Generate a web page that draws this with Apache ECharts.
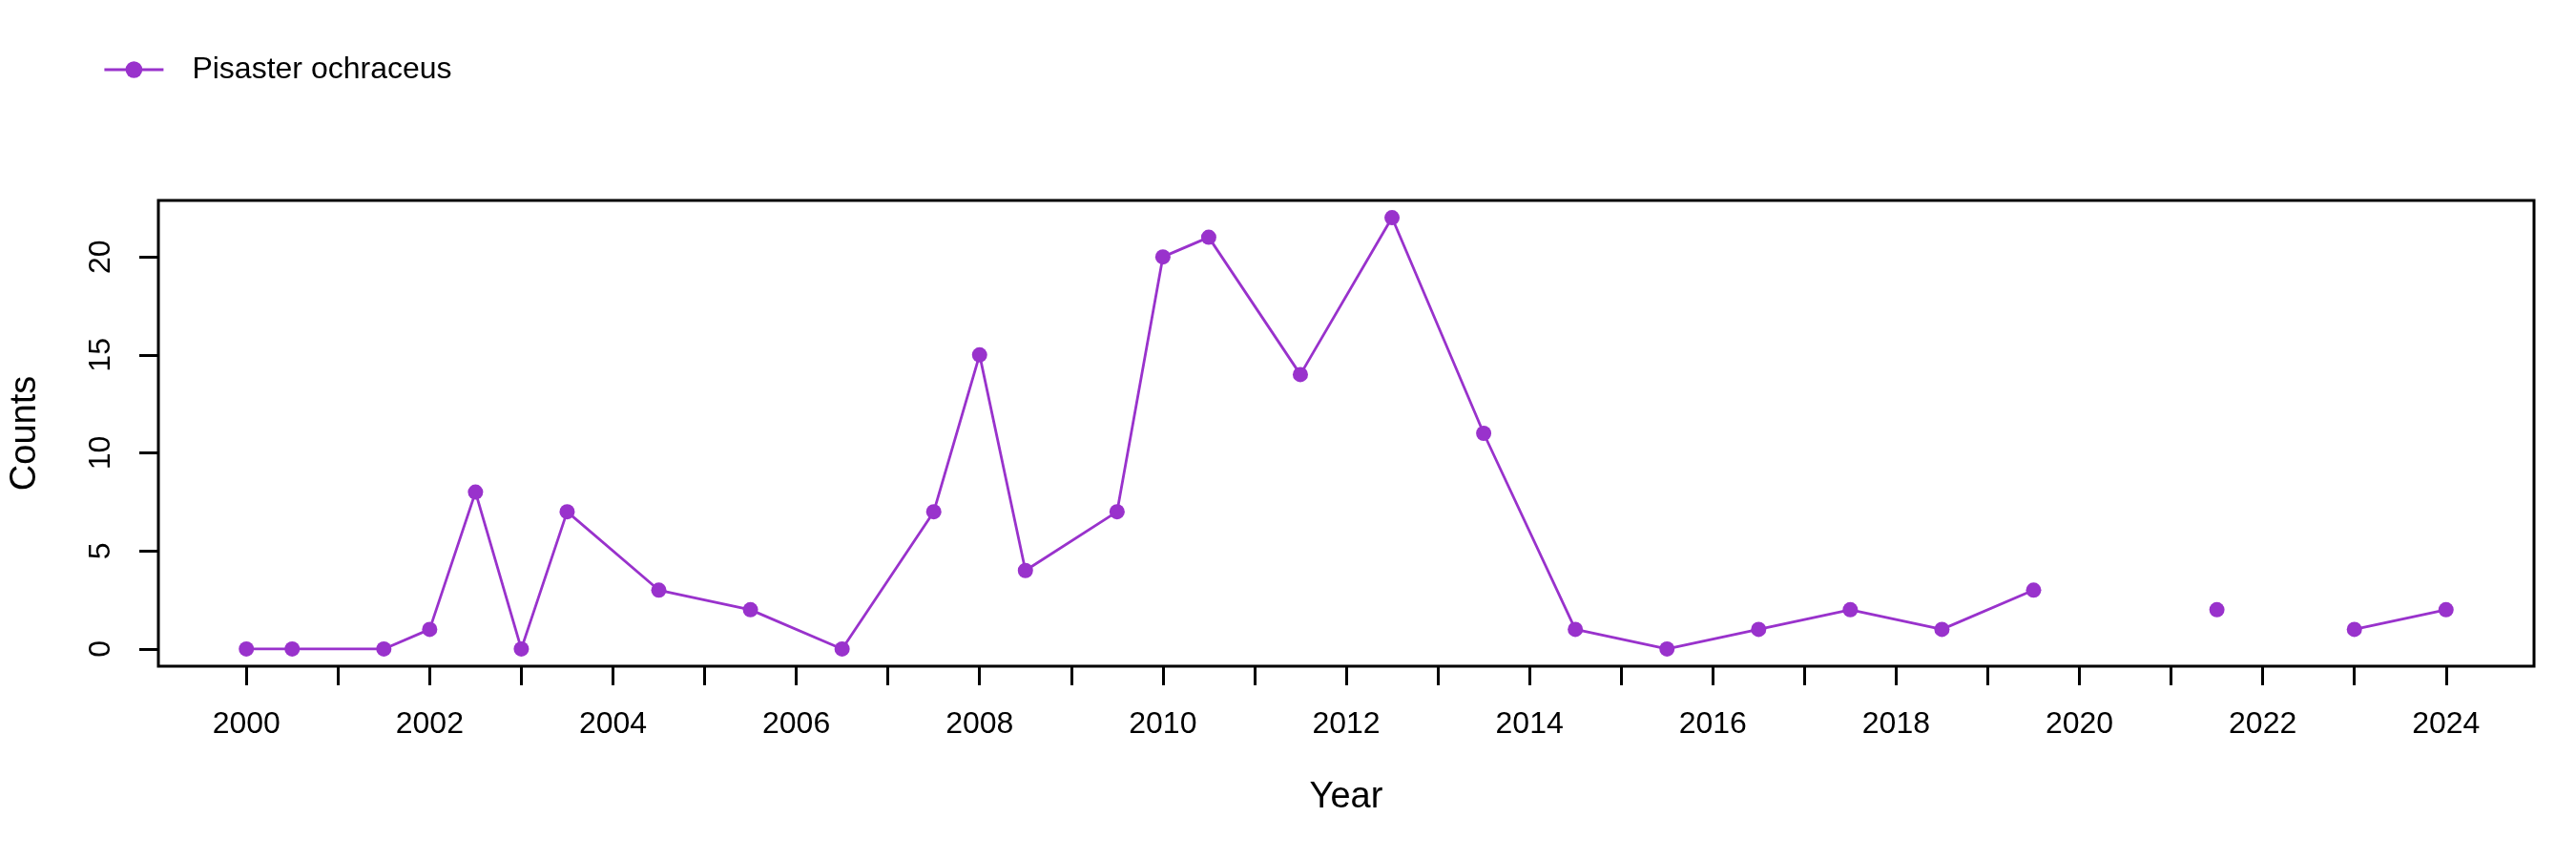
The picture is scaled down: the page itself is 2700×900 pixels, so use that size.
<!DOCTYPE html>
<html>
<head>
<meta charset="utf-8">
<script src="https://cdn.jsdelivr.net/npm/echarts@6/dist/echarts.min.js"></script>
<style>
html,body{margin:0;padding:0;background:#fff;}
#chart{width:2700px;height:900px;}
</style>
</head>
<body>
<div id="chart"></div>
<script>
var seriesName = 'Pisaster ochraceus';
var years  = [2000, 2000.5, 2001.5, 2002, 2002.5, 2003, 2003.5, 2004.5, 2005.5, 2006.5, 2007.5, 2008, 2008.5, 2009.5, 2010, 2010.5, 2011.5, 2012.5, 2013.5, 2014.5, 2015.5, 2016.5, 2017.5, 2018.5, 2019.5, 2020.5, 2021.5, 2022.5, 2023, 2024];
var counts = [0, 0, 0, 1, 8, 0, 7, 3, 2, 0, 7, 15, 4, 7, 20, 21, 14, 22, 11, 1, 0, 1, 2, 1, 3, null, 2, null, 1, 2];
var xTickValues  = [2000,2001,2002,2003,2004,2005,2006,2007,2008,2009,2010,2011,2012,2013,2014,2015,2016,2017,2018,2019,2020,2021,2022,2023,2024];
var xLabelValues = [2000,2002,2004,2006,2008,2010,2012,2014,2016,2018,2020,2022,2024];
var yTickValues  = [0,5,10,15,20];

var data = years.map(function(y,i){ return [y, counts[i] === null ? '-' : counts[i]]; });
var FONT = '"Liberation Sans", Arial, sans-serif';
var COLOR = '#9932CC';

var chart = echarts.init(document.getElementById('chart'), null, {renderer:'canvas'});
chart.setOption({
  animation: false,
  backgroundColor: '#ffffff',
  legend: {
    left: 103, top: 52, padding: 5,
    itemWidth: 62, itemHeight: 22,
    lineStyle: {width: 2.8, color: COLOR},
    itemStyle: {color: COLOR},
    textStyle: {fontFamily: FONT, fontSize: 32, color: '#000', padding: [0,0,0,25]},
    data: [seriesName]
  },
  grid: {
    left: 162, right: 44, top: 210, bottom: 202,
    show: true, borderColor: '#000', borderWidth: 3, backgroundColor: 'transparent'
  },
  xAxis: {
    type: 'value', min: 1999.04, max: 2024.96,
    name: 'Year', nameLocation: 'middle', nameGap: 119,
    nameTextStyle: {fontFamily: FONT, fontSize: 38, color: '#000'},
    axisLine: {show: false, onZero: false},
    splitLine: {show: false},
    axisTick: {show: true, inside: false, length: 20, lineStyle: {color: '#000', width: 3}, customValues: xTickValues},
    axisLabel: {fontFamily: FONT, fontSize: 32, color: '#000', margin: 45, customValues: xLabelValues,
      formatter: function(v){ return String(v); }}
  },
  yAxis: {
    type: 'value', min: -0.88, max: 22.88,
    name: 'Counts', nameLocation: 'middle', nameGap: 120, nameRotate: 90,
    nameTextStyle: {fontFamily: FONT, fontSize: 38, color: '#000'},
    axisLine: {show: false, onZero: false},
    splitLine: {show: false},
    axisTick: {show: true, inside: false, length: 20, lineStyle: {color: '#000', width: 3}, customValues: yTickValues},
    axisLabel: {fontFamily: FONT, fontSize: 32, color: '#000', margin: 44, rotate: 90, customValues: yTickValues,
      formatter: function(v){ return String(v); }}
  },
  series: [{
    name: seriesName,
    type: 'line',
    data: data,
    connectNulls: false,
    symbol: 'circle', symbolSize: 16,
    lineStyle: {color: COLOR, width: 2.8},
    itemStyle: {color: COLOR},
    emphasis: {disabled: true}
  }]
});
</script>
</body>
</html>
